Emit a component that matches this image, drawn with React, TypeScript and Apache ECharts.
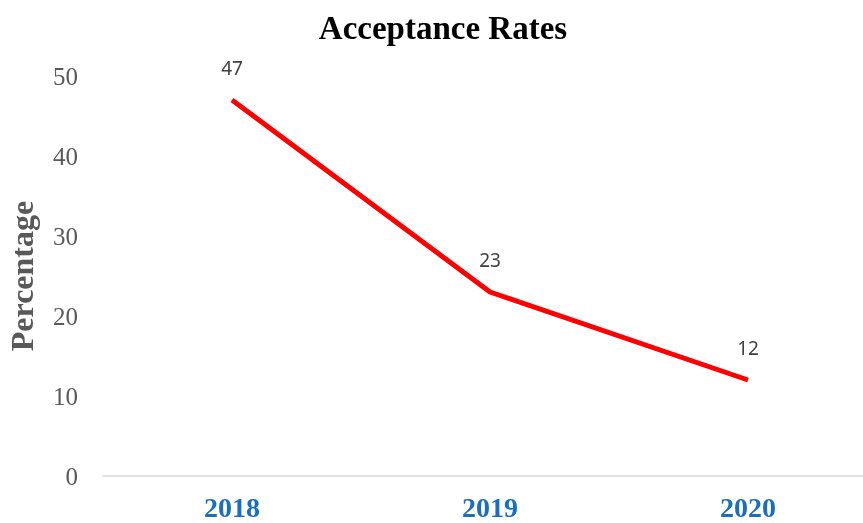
import React, { useEffect, useRef } from "react";
import * as echarts from "echarts";

const categories = ["2018", "2019", "2020"];
const values = [47, 23, 12];
const yTicks = [0, 10, 20, 30, 40, 50];

export default function App() {
  const ref = useRef<HTMLDivElement>(null);
  useEffect(() => {
    const chart = echarts.init(ref.current!, null, { renderer: "svg" });
    chart.setOption({
      animation: false,
      title: {
        text: "Acceptance Rates",
        left: 438,
        top: 6,
        textAlign: "center",
        textStyle: { fontFamily: "Liberation Serif", fontWeight: "bold", fontSize: 33, color: "#000" },
      },
      grid: { left: 103, top: 76, width: 774, height: 400, outerBoundsMode: "none", containLabel: false },
      xAxis: {
        type: "category",
        data: categories,
        boundaryGap: true,
        axisLine: { lineStyle: { color: "#d9d9d9", width: 1.5 } },
        axisTick: { show: false },
        axisLabel: {
          margin: 18,
          fontFamily: "Liberation Serif",
          fontWeight: "bold",
          fontSize: 28,
          lineHeight: 26,
          color: "#1a6ec2",
        },
      },
      yAxis: {
        type: "value",
        min: yTicks[0],
        max: yTicks[yTicks.length - 1],
        interval: 10,
        name: "Percentage",
        nameLocation: "middle",
        nameGap: 65,
        nameTextStyle: { fontFamily: "Liberation Serif", fontWeight: "bold", fontSize: 32, color: "#595959" },
        axisLine: { show: false },
        axisTick: { show: false },
        splitLine: { show: false },
        axisLabel: { margin: 25, fontFamily: "Liberation Serif", fontSize: 25, color: "#595959" },
      },
      series: [
        {
          type: "line",
          data: values,
          symbol: "circle",
          symbolSize: 0.1,
          itemStyle: { color: "#ff0000" },
          lineStyle: { color: "#ff0000", width: 5 },
          label: {
            show: true,
            position: "top",
            distance: 22,
            fontFamily: "Noto Sans",
            fontSize: 19,
            color: "#404040",
          },
        },
      ],
    });
    return () => chart.dispose();
  }, []);
  return <div ref={ref} style={{ position: "fixed", left: 0, top: 0, width: 863, height: 523 }} />;
}
